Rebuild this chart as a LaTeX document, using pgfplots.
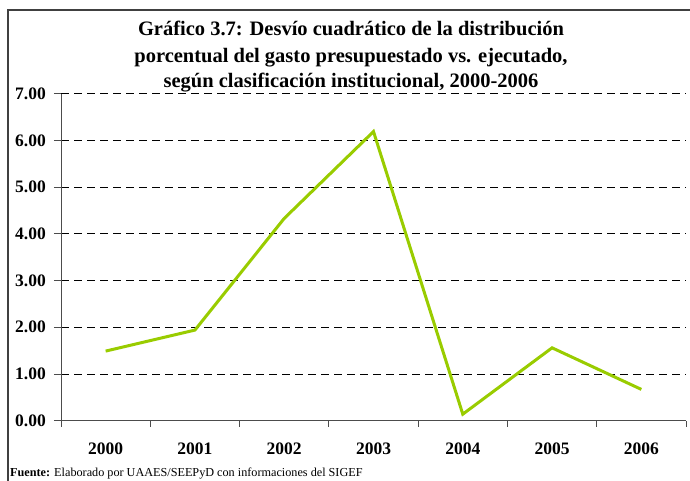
\documentclass[border=0pt]{standalone}
\usepackage{fontspec}
\setmainfont{Liberation Serif}
\usepackage{pgfplots}
\pgfplotsset{compat=1.18}
\definecolor{linegreen}{RGB}{153,204,0}
\begin{document}
\begin{tikzpicture}[x=1pt,y=1pt]
\path[use as bounding box] (0,0) rectangle (690,-481);
\draw[line width=1.5pt,black!75] (8,-481) -- (8,-10) -- (690,-10);
\begin{axis}[
at={(61pt,-420.7pt)},anchor=south west,
scale only axis,width=625pt,height=327pt,
xmin=-0.5,xmax=6.5,ymin=0,ymax=7,
axis x line*=bottom,axis y line*=left,
axis line style={-,black!70,line width=0.9pt},
xtick={0,...,6},xticklabels={2000,2001,2002,2003,2004,2005,2006},
major x tick style={draw=none},
major y tick style={draw=black!70,line width=0.9pt},
minor xtick={-0.5,0.5,...,6.5},
ytick={0,...,7},
tick align=outside,
major tick length=7pt,minor tick length=6pt,
tick style={black!70,line width=0.9pt},
ymajorgrids,
major grid style={black,line width=0.9pt,dash pattern=on 8pt off 5pt},
ticklabel style={font=\fontsize{17.5}{20}\bfseries},
yticklabel style={anchor=east,inner sep=0pt,xshift=-8pt,
  /pgf/number format/.cd,fixed,fixed zerofill,precision=2,assume math mode=true},
xticklabel style={anchor=base,inner sep=0pt,yshift=-26.5pt},
]
\addplot[linegreen,line width=3pt,mark=none] coordinates {
(0,1.49)(1,1.94)(2,4.33)(3,6.19)(4,0.14)(5,1.56)(6,0.67)};
\end{axis}
\node[anchor=base,font=\fontsize{20.5}{26}\bfseries] at (351,-36) {Gráfico 3.7: Desvío cuadrático de la distribución};
\node[anchor=base,font=\fontsize{20.5}{26}\bfseries] at (351,-63) {porcentual del gasto presupuestado vs. ejecutado,};
\node[anchor=base,font=\fontsize{20.5}{26}\bfseries] at (351,-88) {según clasificación institucional, 2000-2006};
\node[anchor=base west,inner sep=0pt,font=\fontsize{12.2}{14}\selectfont] at (10,-476) {\textbf{Fuente:} Elaborado por UAAES/SEEPyD con informaciones del SIGEF};
\end{tikzpicture}
\end{document}
